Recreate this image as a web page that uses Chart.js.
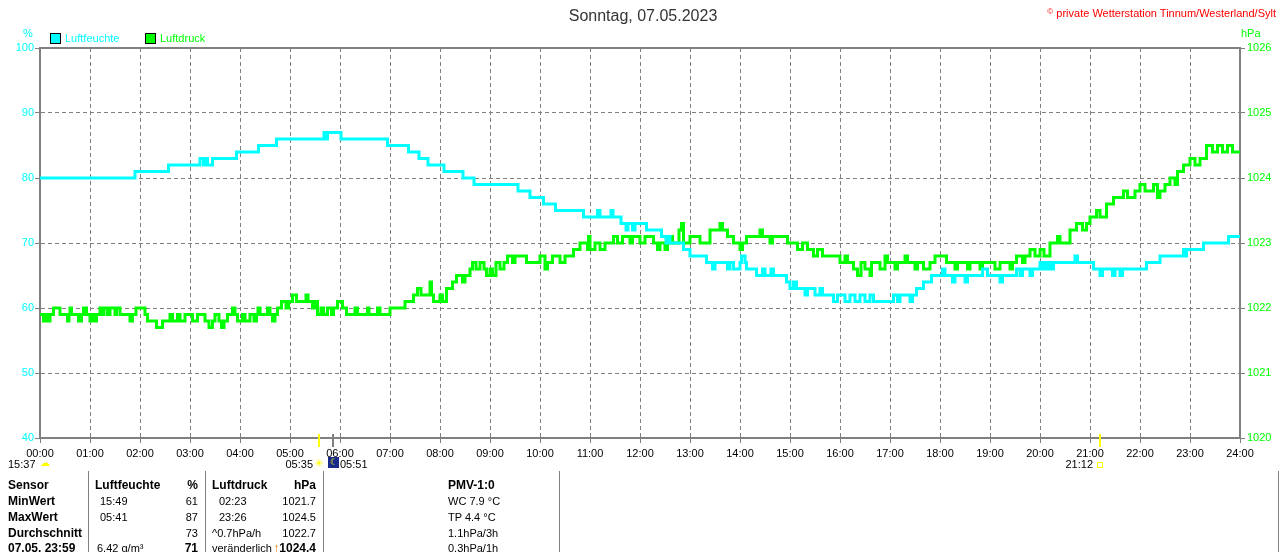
<!DOCTYPE html>
<html lang="de">
<head>
<meta charset="utf-8">
<title>Sonntag, 07.05.2023</title>
<script src="https://cdn.jsdelivr.net/npm/chart.js@4.4.0/dist/chart.umd.min.js"></script>
<style>
  html, body { margin: 0; padding: 0; background: #fff; }
  #wrap { position: relative; width: 1280px; height: 552px; overflow: hidden;
          font-family: "Liberation Sans", Arial, sans-serif; color: #000; }
  #chart { position: absolute; left: 0; top: 0; }
  .t { position: absolute; white-space: nowrap; line-height: 14px; font-size: 11px; }
  .b { font-weight: bold; font-size: 12px; }
  .r { text-align: right; }
  .box { position: absolute; width: 9px; height: 9px; border: 1px solid #000; }
  .vl { position: absolute; top: 471px; width: 1px; height: 81px; background: #808080; }
  .ico { position: absolute; }
</style>
</head>
<body>
<div id="wrap">
  <canvas id="chart" width="1280" height="552"></canvas>

  <div class="t" style="left:0;width:1286px;text-align:center;top:7px;font-size:16px;line-height:18px;color:#333">Sonntag, 07.05.2023</div>
  <div class="t" style="right:4px;top:5px;color:#f00"><span style="font-size:8px;vertical-align:3px">©</span> private Wetterstation Tinnum/Westerland/Sylt</div>

  <div class="t" style="left:23px;top:26px;color:#00ffff">%</div>
  <div class="t" style="left:1241px;top:26px;color:#00ff00">hPa</div>

  <div class="box" style="left:50px;top:33px;background:#00ffff"></div>
  <div class="t" style="left:65px;top:31px;color:#00ffff">Luftfeuchte</div>
  <div class="box" style="left:145px;top:33px;background:#00ff00"></div>
  <div class="t" style="left:160px;top:31px;color:#00ff00">Luftdruck</div>

  <!-- Auf-/Untergang unter der Zeitachse -->
  <div class="t" style="left:8px;top:457px">15:37</div>
  <div class="ico" style="left:40px;top:458px;color:#ffff00;font-size:10px;line-height:10px">☁</div>
  <div class="t" id="riseTxt" style="top:457px">05:35</div>
  <div class="ico" id="riseIco" style="top:457px;width:10px;color:#ffff00;font-size:11px;line-height:12px;text-align:center">☀</div>
  <div class="ico" id="setIco" style="top:457px;width:11px;height:11px;background:#1a2a8a;color:#ffff00;font-size:9px;line-height:11px;text-align:center">☾</div>
  <div class="t" id="setTxt" style="top:457px">05:51</div>
  <div class="t" id="moonTxt" style="top:457px">21:12</div>
  <div class="ico" id="moonIco" style="top:462px;width:4px;height:4px;border:1px solid #ffff00"></div>

  <!-- Tabelle -->
  <div class="vl" style="left:88px"></div>
  <div class="vl" style="left:205px"></div>
  <div class="vl" style="left:323px"></div>
  <div class="vl" style="left:559px"></div>
  <div class="vl" style="left:1278px"></div>

  <div class="t b" style="left:8px;top:478px">Sensor</div>
  <div class="t b" style="left:95px;top:478px">Luftfeuchte</div>
  <div class="t b r" style="right:1082px;top:478px">%</div>
  <div class="t b" style="left:212px;top:478px">Luftdruck</div>
  <div class="t b r" style="right:964px;top:478px">hPa</div>
  <div class="t b" style="left:448px;top:478px">PMV-1:0</div>

  <div class="t b" style="left:8px;top:494px">MinWert</div>
  <div class="t" style="left:100px;top:494px">15:49</div>
  <div class="t r" style="right:1082px;top:494px">61</div>
  <div class="t" style="left:219px;top:494px">02:23</div>
  <div class="t r" style="right:964px;top:494px">1021.7</div>
  <div class="t" style="left:448px;top:494px">WC 7.9 °C</div>

  <div class="t b" style="left:8px;top:510px">MaxWert</div>
  <div class="t" style="left:100px;top:510px">05:41</div>
  <div class="t r" style="right:1082px;top:510px">87</div>
  <div class="t" style="left:219px;top:510px">23:26</div>
  <div class="t r" style="right:964px;top:510px">1024.5</div>
  <div class="t" style="left:448px;top:510px">TP 4.4 °C</div>

  <div class="t b" style="left:8px;top:526px">Durchschnitt</div>
  <div class="t r" style="right:1082px;top:526px">73</div>
  <div class="t" style="left:212px;top:526px">^0.7hPa/h</div>
  <div class="t r" style="right:964px;top:526px">1022.7</div>
  <div class="t" style="left:448px;top:526px">1.1hPa/3h</div>

  <div class="t b" style="left:8px;top:541px">07.05. 23:59</div>
  <div class="t" style="left:97px;top:541px">6.42 g/m³</div>
  <div class="t b r" style="right:1082px;top:541px">71</div>
  <div class="t" style="left:212px;top:541px">veränderlich</div>
  <div class="t b r" style="right:964px;top:541px;background:#fff"><span style="color:#e08000">↑</span>1024.4</div>
  <div class="t" style="left:448px;top:541px">0.3hPa/1h</div>
</div>

<script>
// Luftfeuchte (%), Stufenwerte: ab Uhrzeit (Stunden) gilt der Wert
const humHours = [
  0, 1.90, 2.57, 3.20, 3.27, 3.30, 3.35, 3.45, 3.93, 4.37,
  4.73, 5.68, 5.72, 5.75, 6.02, 6.95, 7.37, 7.58, 7.76, 8.08,
  8.46, 8.68, 9.56, 9.80, 10.07, 10.31, 10.87, 11.15, 11.20, 11.42,
  11.46, 11.62, 11.72, 11.76, 11.85, 11.90, 12.13, 12.43, 12.52, 12.55,
  12.60, 12.87, 13.00, 13.33, 13.45, 13.50, 13.75, 13.80, 13.87, 14.00,
  14.03, 14.10, 14.13, 14.33, 14.45, 14.50, 14.62, 14.67, 14.93, 15.00,
  15.07, 15.13, 15.30, 15.35, 15.50, 15.60, 15.65, 15.87, 15.95, 16.10,
  16.20, 16.30, 16.40, 16.50, 16.60, 16.67, 17.07, 17.15, 17.20, 17.40,
  17.45, 17.53, 17.67, 17.83, 18.05, 18.10, 18.25, 18.30, 18.50, 18.55,
  18.85, 18.95, 19.20, 19.25, 19.53, 19.60, 19.65, 19.80, 19.85, 20.00,
  20.05, 20.10, 20.15, 20.20, 20.25, 20.27, 20.70, 20.75, 21.07, 21.20,
  21.25, 21.45, 21.50, 21.60, 21.65, 22.13, 22.40, 22.87, 22.90, 22.93,
  23.27, 23.77, 24.00
];
const humValues = [
  80, 81, 82, 83, 82, 83, 82, 83, 84, 85,
  86, 87, 86, 87, 86, 85, 84, 83, 82, 81,
  80, 79, 78, 77, 76, 75, 74, 75, 74, 75,
  74, 73, 72, 73, 72, 73, 72, 71, 70, 71,
  70, 69, 68, 67, 66, 67, 66, 67, 66, 67,
  68, 67, 66, 65, 66, 65, 66, 65, 64, 63,
  64, 63, 62, 63, 62, 63, 62, 61, 62, 61,
  62, 61, 62, 61, 62, 61, 62, 61, 62, 61,
  62, 63, 64, 65, 66, 65, 64, 65, 64, 65,
  66, 65, 64, 65, 66, 65, 66, 65, 66, 67,
  66, 67, 66, 67, 66, 67, 68, 67, 66, 65,
  66, 65, 66, 65, 66, 67, 68, 69, 68, 69,
  70, 71, 71
];

// Luftdruck (hPa)
const pressHours = [
  0.00, 0.07, 0.10, 0.15, 0.20, 0.27, 0.40, 0.55, 0.58, 0.60,
  0.63, 0.77, 0.83, 0.87, 0.93, 1.00, 1.03, 1.07, 1.13, 1.20,
  1.25, 1.28, 1.35, 1.40, 1.50, 1.53, 1.60, 1.80, 1.85, 1.92,
  2.10, 2.15, 2.33, 2.45, 2.60, 2.65, 2.75, 2.80, 2.90, 3.05,
  3.15, 3.30, 3.38, 3.45, 3.50, 3.58, 3.63, 3.68, 3.75, 3.85,
  3.90, 3.95, 4.05, 4.10, 4.20, 4.28, 4.33, 4.36, 4.40, 4.55,
  4.60, 4.65, 4.70, 4.75, 4.83, 4.92, 4.97, 5.05, 5.13, 5.32,
  5.36, 5.45, 5.50, 5.55, 5.62, 5.67, 5.75, 5.83, 5.87, 5.95,
  6.05, 6.13, 6.30, 6.35, 6.55, 6.58, 6.75, 6.80, 7.00, 7.30,
  7.47, 7.55, 7.62, 7.80, 7.83, 7.87, 8.00, 8.05, 8.13, 8.25,
  8.33, 8.45, 8.50, 8.60, 8.65, 8.72, 8.80, 8.88, 8.93, 9.00,
  9.05, 9.12, 9.20, 9.28, 9.35, 9.45, 9.50, 9.73, 10.00, 10.10,
  10.15, 10.25, 10.40, 10.50, 10.67, 10.80, 10.95, 10.97, 11.00, 11.10,
  11.20, 11.30, 11.47, 11.55, 11.65, 11.80, 11.85, 12.00, 12.10, 12.27,
  12.35, 12.40, 12.50, 12.55, 12.60, 12.65, 12.78, 12.83, 12.87, 13.00,
  13.20, 13.40, 13.60, 13.65, 13.75, 13.87, 14.00, 14.05, 14.13, 14.40,
  14.45, 14.60, 14.65, 14.95, 15.15, 15.25, 15.35, 15.47, 15.55, 15.65,
  15.73, 16.00, 16.10, 16.15, 16.27, 16.35, 16.42, 16.50, 16.60, 16.63,
  16.80, 16.90, 16.95, 17.10, 17.15, 17.30, 17.35, 17.50, 17.55, 17.67,
  17.80, 17.90, 18.13, 18.30, 18.35, 18.55, 18.60, 18.80, 18.85, 19.10,
  19.20, 19.40, 19.45, 19.53, 19.65, 19.70, 19.80, 19.90, 20.00, 20.08,
  20.20, 20.35, 20.40, 20.60, 20.73, 20.85, 20.93, 21.00, 21.13, 21.20,
  21.33, 21.47, 21.67, 21.75, 21.90, 22.00, 22.10, 22.27, 22.35, 22.40,
  22.50, 22.60, 22.70, 22.75, 22.87, 23.00, 23.10, 23.20, 23.33, 23.45,
  23.55, 23.65, 23.75, 23.85, 24.00
];
const pressValues = [
  1021.9, 1021.8, 1021.9, 1021.8, 1021.9, 1022.0, 1021.9, 1021.8, 1021.9, 1022.0,
  1021.9, 1021.8, 1021.9, 1022.0, 1021.9, 1021.8, 1021.9, 1021.8, 1021.9, 1022.0,
  1021.9, 1022.0, 1021.9, 1022.0, 1021.9, 1022.0, 1021.9, 1021.8, 1021.9, 1022.0,
  1021.9, 1021.8, 1021.7, 1021.8, 1021.9, 1021.8, 1021.9, 1021.8, 1021.9, 1021.8,
  1021.9, 1021.8, 1021.7, 1021.8, 1021.9, 1021.8, 1021.7, 1021.8, 1021.9, 1022.0,
  1021.9, 1021.8, 1021.9, 1021.8, 1021.9, 1021.8, 1021.9, 1022.0, 1021.9, 1022.0,
  1021.9, 1021.8, 1021.9, 1022.0, 1022.1, 1022.0, 1022.1, 1022.2, 1022.1, 1022.2,
  1022.1, 1022.0, 1022.1, 1021.9, 1022.0, 1021.9, 1022.0, 1021.9, 1022.0, 1022.1,
  1022.0, 1021.9, 1022.0, 1021.9, 1022.0, 1021.9, 1022.0, 1021.9, 1022.0, 1022.1,
  1022.2, 1022.3, 1022.2, 1022.4, 1022.2, 1022.1, 1022.2, 1022.1, 1022.3, 1022.4,
  1022.5, 1022.4, 1022.5, 1022.6, 1022.7, 1022.6, 1022.7, 1022.6, 1022.5, 1022.6,
  1022.5, 1022.7, 1022.6, 1022.7, 1022.8, 1022.7, 1022.8, 1022.7, 1022.8, 1022.6,
  1022.7, 1022.8, 1022.7, 1022.8, 1022.9, 1023.0, 1022.9, 1023.1, 1022.9, 1023.0,
  1022.9, 1023.0, 1023.1, 1023.0, 1023.1, 1023.0, 1023.1, 1023.0, 1023.1, 1023.0,
  1022.9, 1023.0, 1022.9, 1023.0, 1023.1, 1023.0, 1023.2, 1023.3, 1023.0, 1023.1,
  1023.0, 1023.2, 1023.3, 1023.2, 1023.1, 1023.0, 1022.9, 1023.0, 1023.1, 1023.2,
  1023.1, 1023.0, 1023.1, 1023.0, 1022.9, 1023.0, 1022.9, 1022.8, 1022.9, 1022.8,
  1022.8, 1022.7, 1022.8, 1022.7, 1022.6, 1022.5, 1022.7, 1022.6, 1022.5, 1022.7,
  1022.6, 1022.8, 1022.7, 1022.6, 1022.7, 1022.8, 1022.7, 1022.6, 1022.7, 1022.6,
  1022.7, 1022.8, 1022.7, 1022.6, 1022.7, 1022.6, 1022.7, 1022.6, 1022.7, 1022.6,
  1022.7, 1022.6, 1022.7, 1022.8, 1022.7, 1022.8, 1022.9, 1022.8, 1022.9, 1022.8,
  1023.0, 1023.1, 1023.0, 1023.2, 1023.3, 1023.2, 1023.3, 1023.4, 1023.5, 1023.4,
  1023.6, 1023.7, 1023.8, 1023.7, 1023.8, 1023.9, 1023.8, 1023.9, 1023.7, 1023.8,
  1023.9, 1024.0, 1023.9, 1024.1, 1024.2, 1024.3, 1024.2, 1024.3, 1024.5, 1024.4,
  1024.5, 1024.4, 1024.5, 1024.4, 1024.4
];

// Sonnenaufgang, Dämmerung, Mond (Stunden)
const sunHours = [5 + 35 / 60, 5 + 51 / 60, 21 + 12 / 60];
const sunColors = ['#ffff00', '#808080', '#ffff00'];

const GRID = '#808080';
const FONT = { family: '"Liberation Sans", Arial, sans-serif', size: 11 };

const hum = humHours.map((h, i) => ({ x: h, y: humValues[i] }));
const press = pressHours.map((h, i) => ({ x: h, y: pressValues[i] }));

// oberer Rahmen und Markierungen an der Zeitachse
const framePlugin = {
  id: 'frame',
  afterDraw(chart) {
    const { ctx, chartArea: a, scales } = chart;
    ctx.save();
    ctx.strokeStyle = GRID;
    ctx.lineWidth = 2;
    ctx.beginPath();
    ctx.moveTo(a.left - 1, a.top);
    ctx.lineTo(a.right + 1, a.top);
    ctx.stroke();
    sunHours.forEach((h, i) => {
      const x = Math.round(scales.x.getPixelForValue(h));
      ctx.strokeStyle = sunColors[i];
      ctx.beginPath();
      ctx.moveTo(x, a.bottom - 4);
      ctx.lineTo(x, a.bottom + 9);
      ctx.stroke();
    });
    ctx.restore();
  }
};

const chart = new Chart(document.getElementById('chart'), {
  type: 'line',
  data: {
    datasets: [
      {
        label: 'Luftfeuchte',
        data: hum,
        yAxisID: 'y',
        borderColor: '#00ffff',
        borderWidth: 3,
        stepped: true,
        pointRadius: 0
      },
      {
        label: 'Luftdruck',
        data: press,
        yAxisID: 'y2',
        borderColor: '#00ff00',
        borderWidth: 3,
        stepped: true,
        pointRadius: 0
      }
    ]
  },
  options: {
    responsive: false,
    animation: false,
    layout: { padding: { top: 48, left: 0, right: 0, bottom: 0 } },
    plugins: { legend: { display: false }, tooltip: { enabled: false } },
    scales: {
      x: {
        type: 'linear',
        min: 0,
        max: 24,
        afterFit: s => { s.height = 114; },
        border: { color: GRID, width: 2, dash: [4, 3] },
        grid: { color: GRID, lineWidth: 1, tickLength: 5, tickColor: GRID },
        ticks: {
          stepSize: 1,
          autoSkip: false,
          maxRotation: 0,
          padding: 4,
          color: '#000',
          font: FONT,
          callback: v => String(v).padStart(2, '0') + ':00'
        }
      },
      y: {
        position: 'left',
        min: 40,
        max: 100,
        afterFit: s => { s.width = 40; },
        border: { color: GRID, width: 2, dash: [4, 3] },
        grid: { color: GRID, lineWidth: 1, tickLength: 5, tickColor: GRID },
        ticks: { stepSize: 10, padding: 1, color: '#00ffff', font: FONT, callback: v => String(v) }
      },
      y2: {
        position: 'right',
        min: 1020,
        max: 1026,
        afterFit: s => { s.width = 40; },
        border: { color: GRID, width: 2 },
        grid: { drawOnChartArea: false, tickLength: 5, tickColor: GRID },
        ticks: { stepSize: 1, padding: 2, color: '#00ff00', font: FONT, callback: v => String(v) }
      }
    }
  },
  plugins: [framePlugin]
});

// Beschriftungen der Markierungen an der Zeitachse ausrichten
const xs = chart.scales.x;
const px = sunHours.map(h => Math.round(xs.getPixelForValue(h)));
const place = (id, left) => { document.getElementById(id).style.left = left + 'px'; };
place('riseIco', px[0] - 5);
document.getElementById('riseTxt').style.right = (1280 - (px[0] - 6)) + 'px';
place('setIco', px[1] - 5);
place('setTxt', px[1] + 7);
place('moonIco', px[2] - 3);
document.getElementById('moonTxt').style.right = (1280 - (px[2] - 7)) + 'px';
</script>
</body>
</html>
